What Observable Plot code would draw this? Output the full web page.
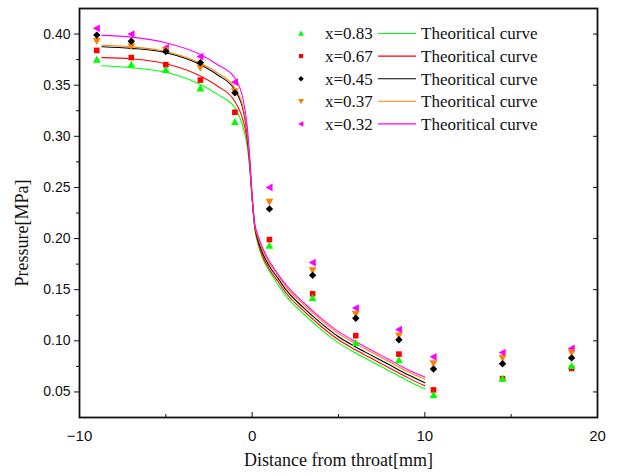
<!DOCTYPE html>
<html>
<head>
<meta charset="utf-8">
<script src="https://cdn.jsdelivr.net/npm/d3@7"></script>
<script src="https://cdn.jsdelivr.net/npm/@observablehq/plot@0.6"></script>
<style>
  html, body { margin: 0; padding: 0; background: #fff; }
  #chart svg { display: block; }
</style>
</head>
<body>
<div id="chart"></div>
<script>
// ---------- data ----------
const measX = [-9, -7, -5, -3, -1, 1, 3.5, 6, 8.5, 10.5, 14.5, 18.5];
const meas083 = [0.375, 0.370, 0.365, 0.347, 0.314, 0.193, 0.142, 0.098, 0.081, 0.047, 0.063, 0.0755];
const meas067 = [0.384, 0.377, 0.370, 0.355, 0.3235, 0.199, 0.146, 0.105, 0.087, 0.052, 0.063, 0.073];
const meas045 = [0.399, 0.393, 0.383, 0.372, 0.3425, 0.229, 0.164, 0.122, 0.101, 0.0725, 0.0775, 0.0833];
const meas037 = [0.393, 0.388, 0.384, 0.367, 0.344, 0.236, 0.169, 0.126, 0.105, 0.078, 0.083, 0.0885];
const meas032 = [0.4056, 0.400, 0.3866, 0.378, 0.353, 0.250, 0.1765, 0.132, 0.111, 0.0843, 0.0885, 0.0925];

const curveX = [-8.7, -7, -5, -3, -2, -1, -0.5, -0.3, -0.15, 0, 0.15, 0.3, 0.6, 1, 1.5, 2, 3, 4, 5, 6, 7, 8, 9, 10];
const curve083 = [0.369, 0.367, 0.3627, 0.3507, 0.341, 0.328, 0.307, 0.292, 0.270, 0.238, 0.210, 0.197, 0.181, 0.168, 0.155, 0.143, 0.126, 0.111, 0.098, 0.088, 0.079, 0.070, 0.061, 0.053];
const curve067 = [0.377, 0.3758, 0.371, 0.359, 0.349, 0.334, 0.314, 0.297, 0.273, 0.239, 0.211, 0.199, 0.183, 0.170, 0.158, 0.146, 0.129, 0.114, 0.101, 0.091, 0.082, 0.073, 0.064, 0.056];
const curve045 = [0.3876, 0.386, 0.3817, 0.370, 0.360, 0.345, 0.324, 0.304, 0.277, 0.240, 0.212, 0.201, 0.186, 0.173, 0.161, 0.149, 0.132, 0.117, 0.104, 0.094, 0.085, 0.076, 0.067, 0.059];
const curve037 = [0.389, 0.3875, 0.383, 0.3715, 0.362, 0.347, 0.326, 0.306, 0.278, 0.240, 0.213, 0.203, 0.189, 0.176, 0.164, 0.152, 0.135, 0.120, 0.107, 0.097, 0.088, 0.079, 0.070, 0.0625];
const curve032 = [0.3987, 0.397, 0.3915, 0.380, 0.370, 0.357, 0.334, 0.312, 0.282, 0.242, 0.215, 0.205, 0.191, 0.178, 0.165, 0.154, 0.137, 0.122, 0.109, 0.099, 0.090, 0.081, 0.072, 0.0645];

const seriesLabels = ["x=0.83", "x=0.67", "x=0.45", "x=0.37", "x=0.32"];
const curveLabel = "Theoritical curve";
const seriesColors = ["#00ff00", "#ff0000", "#000000", "#ff8000", "#ff00ff"];

const xTicks = [-10, 0, 10, 20];
const xMinor = [-5, 5, 15];
const yTicks = [0.05, 0.10, 0.15, 0.20, 0.25, 0.30, 0.35, 0.40];
const yMinor = [0.075, 0.125, 0.175, 0.225, 0.275, 0.325, 0.375];
const xTitle = "Distance from throat[mm]";
const yTitle = "Pressure[MPa]";

// ---------- symbols ----------
const rad = s => Math.sqrt(s / Math.PI);
const triUp = {draw(c, s) { const r = rad(s); c.moveTo(0, -r); c.lineTo(r, r * 0.8); c.lineTo(-r, r * 0.8); c.closePath(); }};
const triDown = {draw(c, s) { const r = rad(s); c.moveTo(0, r); c.lineTo(r, -r * 0.8); c.lineTo(-r, -r * 0.8); c.closePath(); }};
const triLeft = {draw(c, s) { const r = rad(s); c.moveTo(-r, 0); c.lineTo(r * 0.8, -r); c.lineTo(r * 0.8, r); c.closePath(); }};
const squareSym = {draw(c, s) { const h = rad(s) * 0.72; c.rect(-h, -h, 2 * h, 2 * h); }};
const diamondSym = {draw(c, s) { const h = rad(s) * 0.95; c.moveTo(0, -h); c.lineTo(h, 0); c.lineTo(0, h); c.lineTo(-h, 0); c.closePath(); }};
const seriesSymbols = [triUp, squareSym, diamondSym, triDown, triLeft];

// ---------- tables ----------
const measSets = [meas083, meas067, meas045, meas037, meas032];
const curveSets = [curve083, curve067, curve045, curve037, curve032];
const measData = measSets.map(arr => measX.map((x, i) => ({x, y: arr[i]})));
const curveData = curveSets.map(arr => curveX.map((x, i) => ({x, y: arr[i]})));

const W = 618, H = 476, ML = 79, MR = 21, MT = 8, MB = 59;
const FW = W - ML - MR, FH = H - MT - MB;
const sans = "'Liberation Sans', Arial, sans-serif";
const serif = "'Liberation Serif', 'Times New Roman', serif";

const marks = [];
for (let k = 0; k < 5; k++) {
  marks.push(Plot.line(curveData[k], {x: "x", y: "y", stroke: seriesColors[k], strokeWidth: 1.1, curve: "monotone-x"}));
}
for (let k = 4; k >= 0; k--) {
  marks.push(Plot.dot(measData[k], {x: "x", y: "y", fill: seriesColors[k], stroke: "none", symbol: seriesSymbols[k], r: 3.9}));
}
marks.push(
  Plot.frame({stroke: "#111", strokeWidth: 1.8}),
  Plot.axisY(yTicks, {tickSize: 5, tickPadding: 4, tickFormat: d3.format(".2f"), fontSize: 14, fontFamily: sans, label: null}),
  Plot.axisY(yMinor, {tickSize: 3, tickFormat: () => "", label: null}),
  Plot.tickY(yTicks, {y: d => d, insetLeft: FW - 4, stroke: "#111"}),
  Plot.axisX(xTicks, {tickSize: 0, tickPadding: 13, fontSize: 15, fontFamily: sans, label: null}),
  Plot.tickX(xTicks, {x: d => d, insetTop: FH - 5, stroke: "#111"}),
  Plot.tickX(xMinor, {x: d => d, insetTop: FH - 3, stroke: "#111"}),
  Plot.text([xTitle], {text: d => d, frameAnchor: "bottom", dy: 48, fontFamily: serif, fontSize: 18, fill: "#111"}),
  Plot.text([yTitle], {text: d => d, frameAnchor: "left", textAnchor: "middle", dx: -57, dy: 20, rotate: -90, fontFamily: serif, fontSize: 18, fill: "#111"})
);

const svg = Plot.plot({
  width: W, height: H,
  marginLeft: ML, marginRight: MR, marginTop: MT, marginBottom: MB,
  x: {domain: [-10, 20]},
  y: {domain: [0.025, 0.425]},
  style: {fontFamily: sans, fontSize: "14px", color: "#111", background: "#fff"},
  marks
});

// ---------- legend ----------
const lg = d3.select(svg).append("g").attr("class", "legend")
  .attr("text-anchor", "start").style("font-family", serif).style("font-size", "17px");
const rowY0 = 33.5, rowStep = 22.6;
seriesLabels.forEach((lab, k) => {
  const y = rowY0 + k * rowStep;
  lg.append("path")
    .attr("d", d3.symbol().type(seriesSymbols[k]).size(Math.PI * 2.9 * 2.9)())
    .attr("transform", `translate(301,${y})`)
    .attr("fill", seriesColors[k]);
  lg.append("text").attr("x", 325).attr("y", y).attr("dy", "0.35em")
    .attr("text-anchor", "start").style("font-family", serif).style("font-size", "17px")
    .attr("fill", "#111").text(lab);
  lg.append("line").attr("x1", 378).attr("x2", 416).attr("y1", y).attr("y2", y)
    .attr("stroke", seriesColors[k]).attr("stroke-width", 1.1);
  lg.append("text").attr("x", 421).attr("y", y).attr("dy", "0.35em")
    .attr("text-anchor", "start").style("font-family", serif).style("font-size", "17px")
    .attr("fill", "#111").text(curveLabel);
});

document.getElementById("chart").appendChild(svg);
</script>
</body>
</html>
